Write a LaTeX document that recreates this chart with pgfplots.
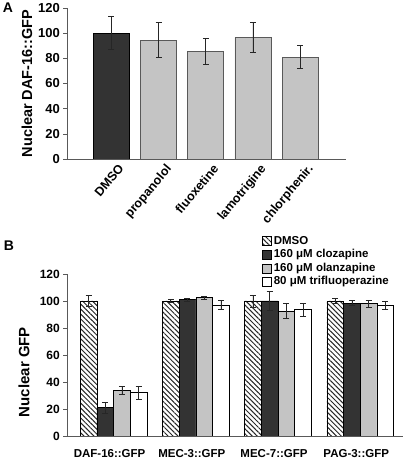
\documentclass[border=0pt]{standalone}
\usepackage{fontspec}
\setmainfont{Liberation Sans}
\usepackage{pgfplots}
\pgfplotsset{compat=1.18}
\usetikzlibrary{patterns.meta}
\definecolor{darkbar}{HTML}{333333}
\definecolor{lgray}{HTML}{C4C4C4}
\pgfplotsset{
  errstyle/.style={error bars/.cd, y dir=both, y explicit,
    error bar style={line width=0.7pt, black!85},
    error mark options={rotate=90, mark size=3pt, line width=0.7pt, black!85}},
}
\begin{document}
\begin{tikzpicture}[x=1pt,y=1pt]
\useasboundingbox (0,0) rectangle (403,461);
\node[font=\bfseries\fontsize{14}{14}\selectfont] at (8,453) {A};
\node[font=\bfseries\fontsize{14}{14}\selectfont] at (9,215) {B};

% Panel A
\begin{axis}[
  at={(67pt,302pt)}, anchor=south west, scale only axis,
  width=279pt, height=151pt,
  xmin=-0.94, xmax=4.97, ymin=0, ymax=120, ytick={0,20,...,120},
  axis x line*=bottom, axis y line*=left,
  axis line style={-, black!65, line width=0.6pt},
  xtick={0,...,4},
  xticklabels={DMSO,propanolol,fluoxetine,lamotrigine,chlorphenir.},
  xticklabel style={rotate=50, anchor=north east, inner sep=1pt, xshift=5pt, yshift=-4pt,
    font=\bfseries\fontsize{12.5}{12.5}\selectfont},
  x tick style={draw=none},
  tick align=outside, major tick length=4pt, ytick pos=left,
  y tick style={black!65, line width=0.6pt},
  /pgf/number format/assume math mode=true,
  yticklabel style={font=\bfseries\fontsize{13}{13}\selectfont, inner sep=1pt, xshift=-2pt},
  ylabel={Nuclear DAF-16::GFP},
  every axis y label/.style={at={(axis description cs:0,0.5)}, xshift=-40pt, rotate=90, anchor=center,
    font=\bfseries\fontsize{14.5}{14.5}\selectfont},
]
\addplot[ybar, bar width=36pt, fill=darkbar, draw=black, line width=0.6pt, errstyle]
  coordinates {(0,100) +- (0,13)};
\addplot[ybar, bar width=36pt, fill=lgray, draw=black!65, line width=0.6pt, errstyle]
  coordinates {(1,94.5) +- (0,14) (2,85.5) +- (0,10.5) (3,96.5) +- (0,12) (4,81) +- (0,9)};
\end{axis}

% Panel B
\begin{axis}[
  at={(67pt,25pt)}, anchor=south west, scale only axis,
  width=336pt, height=162pt,
  xmin=-0.567, xmax=3.52, ymin=0, ymax=120, ytick={0,20,...,120},
  axis x line*=bottom, axis y line*=left,
  axis line style={-, black!65, line width=0.6pt},
  ybar=0pt, bar width=16.7pt,
  xtick={0,...,3},
  xticklabels={DAF-16::GFP,MEC-3::GFP,MEC-7::GFP,PAG-3::GFP},
  xticklabel style={font=\bfseries\fontsize{11.5}{11.5}\selectfont, inner sep=1pt, yshift=-8pt, xshift=-4pt},
  x tick style={draw=none},
  tick align=outside, major tick length=4pt, ytick pos=left,
  y tick style={black!65, line width=0.6pt},
  /pgf/number format/assume math mode=true,
  yticklabel style={font=\bfseries\fontsize{12}{12}\selectfont, inner sep=1pt, xshift=-2pt},
  ylabel={Nuclear GFP},
  every axis y label/.style={at={(axis description cs:0,0.395)}, xshift=-43pt, rotate=90, anchor=center,
    font=\bfseries\fontsize{15}{15}\selectfont},
  legend image code/.code={\draw[#1, line width=0.6pt] (0pt,-4.5pt) rectangle (9pt,4.5pt);},
  legend style={draw=none, fill=none, at={(0.579,1.241)}, anchor=north west,
    inner sep=0pt, row sep=1.6pt, column sep=2pt,
    font=\bfseries\fontsize{11.5}{11.5}\selectfont,
    nodes={inner sep=0.5pt, text height=8.5pt, text depth=2.5pt}},
  legend cell align=left,
]
\addplot[pattern={Lines[angle=-45,distance=3.5pt,line width=1pt]}, pattern color=black!85, draw=black, line width=0.6pt, errstyle]
  coordinates {(0,100) +- (0,4) (1,100) +- (0,1) (2,100) +- (0,4.5) (3,100) +- (0,2)};
\addplot[fill=darkbar, draw=black, line width=0.6pt, errstyle]
  coordinates {(0,21) +- (0,4) (1,101) +- (0,1) (2,100) +- (0,7) (3,98.5) +- (0,2)};
\addplot[fill=lgray, draw=black, line width=0.6pt, errstyle]
  coordinates {(0,33.5) +- (0,3) (1,102.5) +- (0,1) (2,92.5) +- (0,5.5) (3,98) +- (0,2.5)};
\addplot[fill=white, draw=black, line width=0.6pt, errstyle]
  coordinates {(0,32) +- (0,4.5) (1,97) +- (0,3.5) (2,93.5) +- (0,5) (3,96.5) +- (0,3)};
\legend{DMSO, 160 μM clozapine, 160 μM olanzapine, 80 μM trifluoperazine}
\end{axis}
\end{tikzpicture}
\end{document}
